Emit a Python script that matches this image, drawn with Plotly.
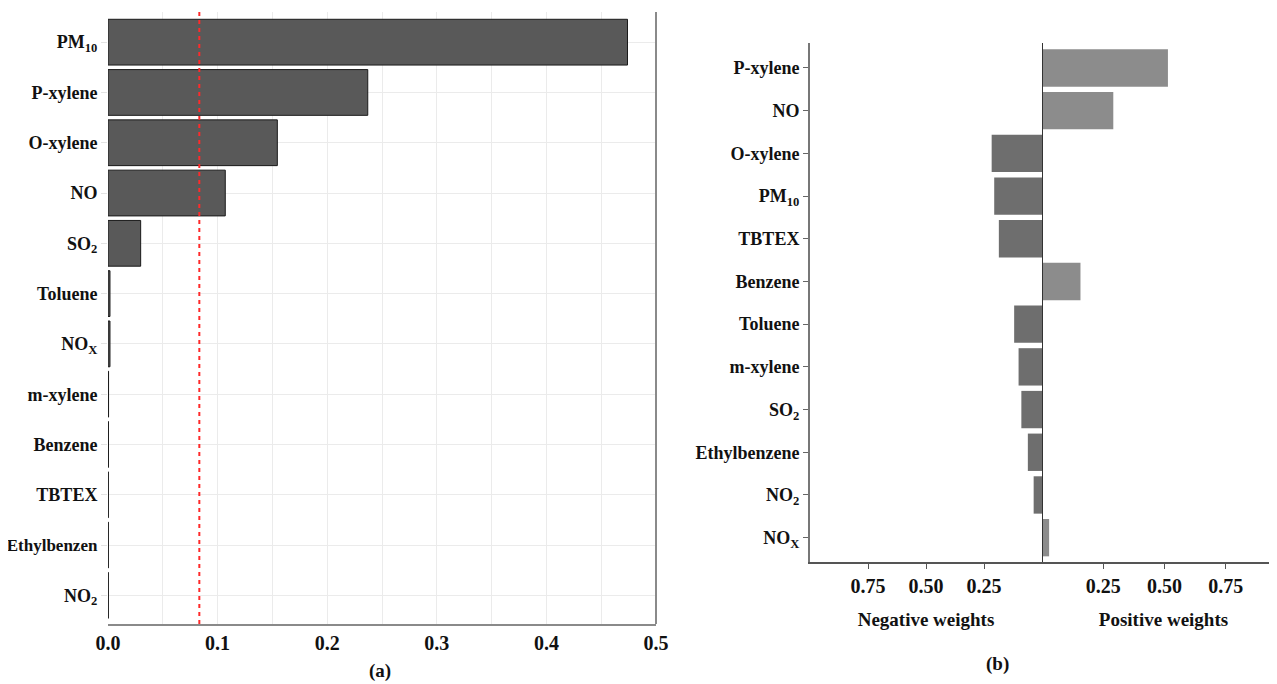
import plotly.graph_objects as go

# ---------- data ----------
# Panel (a): variable importance
cats_a = ["PM10", "P-xylene", "O-xylene", "NO", "SO2", "Toluene", "NOx",
          "m-xylene", "Benzene", "TBTEX", "Ethylbenzen", "NO2"]
labels_a = ["PM<sub>10</sub>", "P-xylene", "O-xylene", "NO", "SO<sub>2</sub>", "Toluene",
            "NO<sub>X</sub>", "m-xylene", "Benzene", "TBTEX",
            "<span style='font-size:17px'>Ethylbenzen</span>", "NO<sub>2</sub>"]
importance_a = [0.474, 0.237, 0.1545, 0.107, 0.0298, 0.0018, 0.0018,
                0.0005, 0.0004, 0.0003, 0.0003, 0.0003]
threshold_a = 1 / 12
xticks_a = [0.0, 0.1, 0.2, 0.3, 0.4, 0.5]

# Panel (b): signed weights
cats_b = ["P-xylene", "NO", "O-xylene", "PM10", "TBTEX", "Benzene", "Toluene",
          "m-xylene", "SO2", "Ethylbenzene", "NO2", "NOx"]
labels_b = ["P-xylene", "NO", "O-xylene", "PM<sub>10</sub>", "TBTEX", "Benzene", "Toluene",
            "m-xylene", "SO<sub>2</sub>", "Ethylbenzene", "NO<sub>2</sub>", "NO<sub>X</sub>"]
weights_b = [0.514, 0.291, -0.217, -0.206, -0.186, 0.157, -0.120,
             -0.101, -0.089, -0.061, -0.036, 0.029]
neg_ticks = [-0.75, -0.50, -0.25]
pos_ticks = [0.25, 0.50, 0.75]

# ---------- layout helpers ----------
W, H = 1277, 684
OFF = 8  # page body margin
def px_x(p):
    return (p - OFF) / W
def px_y(p):
    return 1 - (p - OFF) / H

FONT = "Liberation Serif"
def bfont(size):
    return dict(family=FONT, size=size, color="#111111", weight="bold")

neg_vals = [v if v < 0 else None for v in weights_b]
pos_vals = [v if v > 0 else None for v in weights_b]

fig = go.Figure()

# (a)
fig.add_trace(go.Bar(
    x=importance_a, y=cats_a, orientation="h", width=0.91,
    marker=dict(color="#595959", line=dict(color="#1a1a1a", width=1)),
    xaxis="x", yaxis="y", showlegend=False))

# (b)
fig.add_trace(go.Bar(
    x=neg_vals, y=cats_b, orientation="h", width=0.875,
    marker=dict(color="#6e6e6e", line=dict(width=0)),
    xaxis="x2", yaxis="y2", showlegend=False))
fig.add_trace(go.Bar(
    x=pos_vals, y=cats_b, orientation="h", width=0.875,
    marker=dict(color="#8c8c8c", line=dict(width=0)),
    xaxis="x3", yaxis="y2", showlegend=False))

grid = "#ebebeb"
fig.update_layout(
    width=W, height=H, margin=dict(l=0, r=0, t=0, b=0, autoexpand=False),
    paper_bgcolor="white", plot_bgcolor="white", barmode="overlay",
    xaxis=dict(domain=[px_x(108), px_x(656)], range=[0, 0.5], anchor="y",
               automargin=False,
               tickmode="array", tickvals=xticks_a,
               ticktext=[f"{v:.1f}" for v in xticks_a],
               showgrid=True, gridcolor=grid, gridwidth=1,
               minor=dict(dtick=0.05, showgrid=True, gridcolor=grid, gridwidth=1),
               showline=True, linecolor="#8a8a8a", linewidth=2,
               zeroline=False, ticks="", tickfont=bfont(20)),
    yaxis=dict(domain=[px_y(624), px_y(12)], anchor="x", automargin=False,
               type="category", range=[11.57, -0.6],
               tickmode="array", tickvals=cats_a, ticktext=labels_a,
               showgrid=True, gridcolor=grid, gridwidth=1,
               ticks="outside", ticklen=6, tickcolor="#e3e3e3",
               showline=False, zeroline=False, tickfont=bfont(18)),
    xaxis2=dict(domain=[px_x(810), px_x(1042)], range=[-1.0, 0], anchor="y2",
                automargin=False,
                tickmode="array", tickvals=neg_ticks,
                ticktext=[f"{abs(v):.2f}" for v in neg_ticks],
                showgrid=False, zeroline=False,
                showline=True, linecolor="#555555", linewidth=2,
                ticks="outside", ticklen=5, tickcolor="#555555", tickfont=bfont(20),
                title=dict(text="Negative weights", font=bfont(19), standoff=17)),
    xaxis3=dict(domain=[px_x(1042), 1.0], range=[0, 243 / 245], anchor="y2",
                automargin=False,
                tickmode="array", tickvals=pos_ticks,
                ticktext=[f"{v:.2f}" for v in pos_ticks],
                showgrid=False, zeroline=False,
                showline=True, linecolor="#555555", linewidth=2,
                ticks="outside", ticklen=5, tickcolor="#555555", tickfont=bfont(20),
                title=dict(text="Positive weights", font=bfont(19), standoff=17)),
    yaxis2=dict(domain=[px_y(562), px_y(43)], anchor="x2", automargin=False,
                type="category", range=[11.57, -0.585],
                tickmode="array", tickvals=cats_b, ticktext=labels_b,
                showgrid=False, zeroline=False,
                showline=True, linecolor="#777777", linewidth=2,
                ticks="outside", ticklen=5, tickcolor="#666666", tickfont=bfont(18)),
)

# threshold line (a)
fig.add_shape(type="line", xref="x", yref="y domain", x0=threshold_a, x1=threshold_a,
              y0=0, y1=1, line=dict(color="#ff2a2a", width=2, dash="4px,4px"))
# right border (a)
fig.add_shape(type="line", xref="x domain", yref="y domain", x0=1, x1=1, y0=0, y1=1,
              line=dict(color="#8a8a8a", width=2))
# zero line (b)
fig.add_shape(type="line", xref="x3", yref="y2 domain", x0=0, x1=0, y0=0, y1=1,
              line=dict(color="#333333", width=2))

fig.add_annotation(text="(a)", x=px_x(380), y=px_y(671), xref="paper", yref="paper",
                   xanchor="center", yanchor="middle",
                   showarrow=False, font=bfont(19))
fig.add_annotation(text="(b)", x=px_x(997), y=px_y(664), xref="paper", yref="paper",
                   xanchor="center", yanchor="middle",
                   showarrow=False, font=bfont(19))

fig.write_html("out.html")
